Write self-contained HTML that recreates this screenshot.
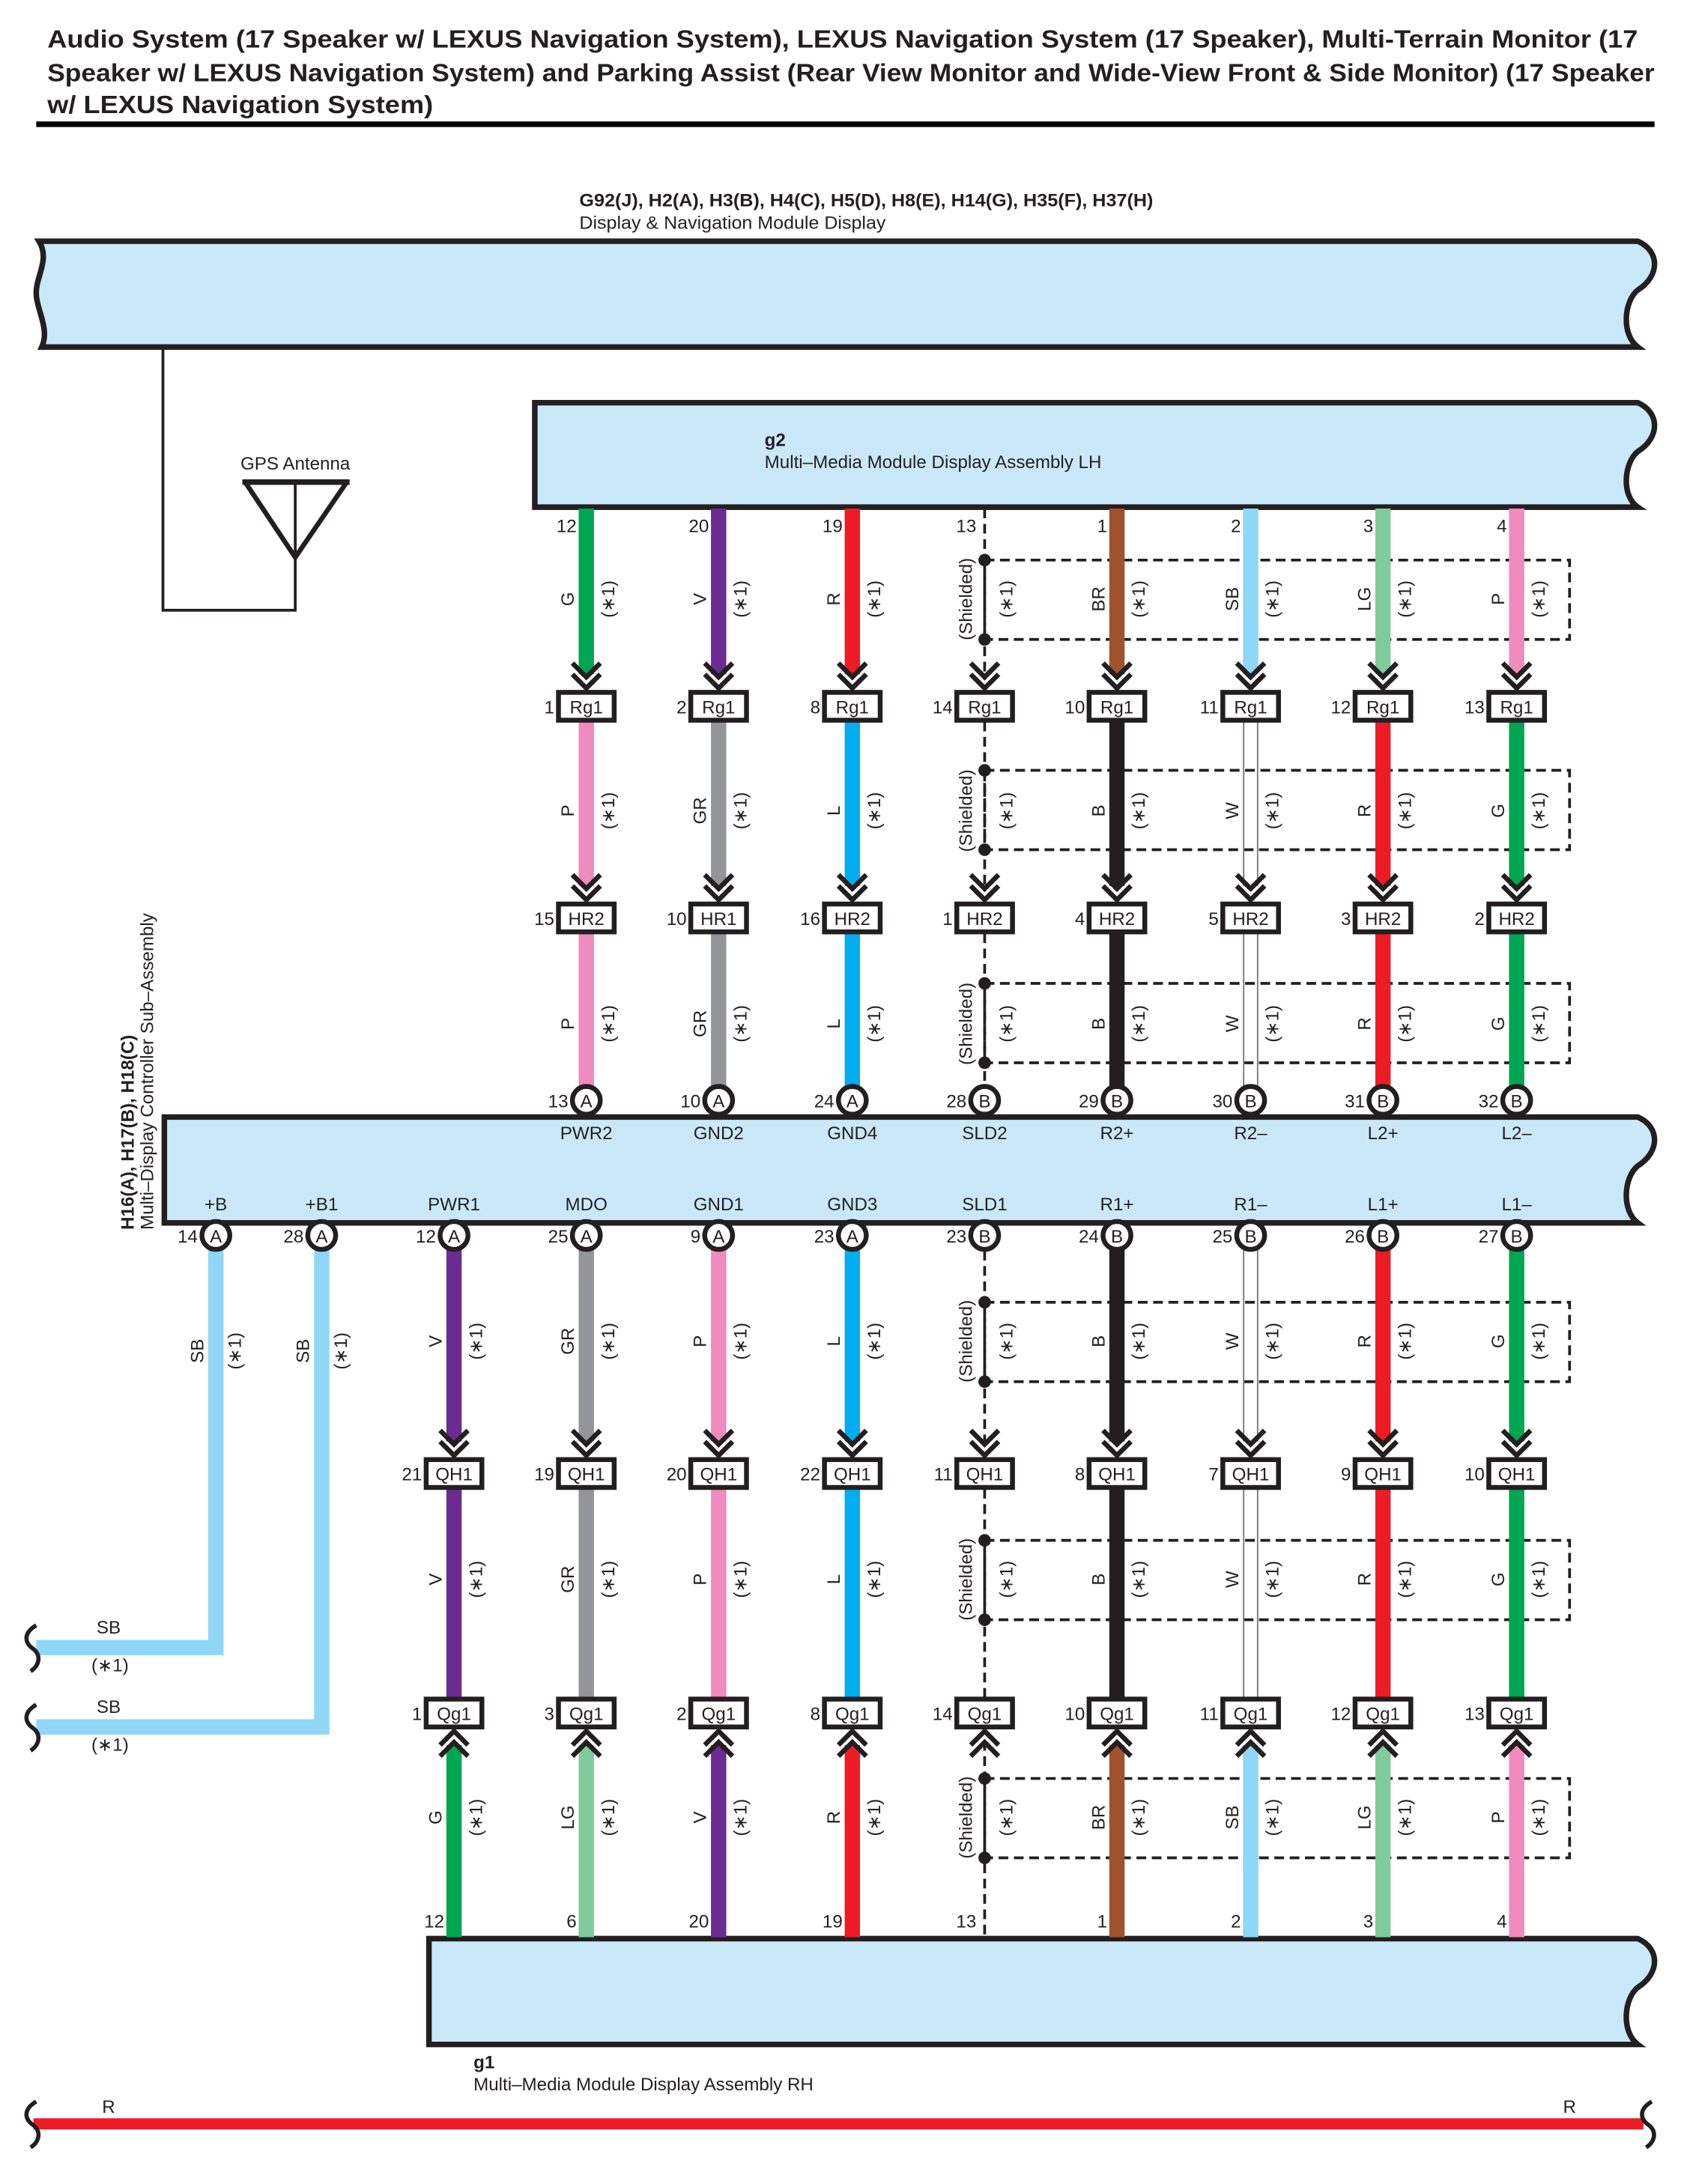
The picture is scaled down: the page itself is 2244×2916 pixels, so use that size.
<!DOCTYPE html>
<html><head><meta charset="utf-8"><style>
html,body{margin:0;padding:0;background:#fff}
svg{display:block}
text{font-family:"Liberation Sans",sans-serif;fill:#231f20}
.b{font-size:13px;text-anchor:middle}
.h{font-weight:bold;font-size:18px}
</style></head><body>
<svg width="2244" height="2916" viewBox="0 0 1207 1568" xmlns="http://www.w3.org/2000/svg">
<defs>
<g id="dn" fill="none" stroke="#231f20" stroke-width="3.5"><polyline points="-10,-31 0,-21 10,-31"/><polyline points="-10,-23 0,-13 10,-23"/></g>
<g id="up" fill="none" stroke="#231f20" stroke-width="3.5"><polyline points="-10,31 0,21 10,31"/><polyline points="-10,23 0,13 10,23"/></g>
<rect id="cb" x="-20" y="-10" width="40" height="20" fill="#fff" stroke="#231f20" stroke-width="3.5"/>
<circle id="cc" r="10" fill="#fff" stroke="#231f20" stroke-width="3.5"/>
</defs>

<!-- Title -->
<text class="h" x="34" y="34" textLength="1142" lengthAdjust="spacingAndGlyphs">Audio System (17 Speaker w/ LEXUS Navigation System), LEXUS Navigation System (17 Speaker), Multi-Terrain Monitor (17</text>
<text class="h" x="34" y="58" textLength="1154" lengthAdjust="spacingAndGlyphs">Speaker w/ LEXUS Navigation System) and Parking Assist (Rear View Monitor and Wide-View Front &amp; Side Monitor) (17 Speaker</text>
<text class="h" x="34" y="81" textLength="277" lengthAdjust="spacingAndGlyphs">w/ LEXUS Navigation System)</text>
<rect x="26" y="87" width="1162" height="4" fill="#000"/>

<!-- Top box -->
<text x="416" y="148" style="font-size:13px;font-weight:bold" textLength="412" lengthAdjust="spacingAndGlyphs">G92(J), H2(A), H3(B), H4(C), H5(D), H8(E), H14(G), H35(F), H37(H)</text>
<text x="416" y="164" style="font-size:13px" textLength="220" lengthAdjust="spacingAndGlyphs">Display &amp; Navigation Module Display</text>
<path d="M28,173 H1176 C1192,180 1192,198 1176,208 C1166,216 1164,240 1176,249 H30 C36,236 26,222 26,210 C26,198 36,186 28,173 Z" fill="#c9e9f9" stroke="#231f20" stroke-width="4"/>

<!-- GPS antenna -->
<polyline points="117,249 117,438 212,438 212,345" fill="none" stroke="#231f20" stroke-width="2"/>
<polyline points="176,346 212,400 249,346" fill="none" stroke="#231f20" stroke-width="3.5"/>
<line x1="174" y1="346" x2="251" y2="346" stroke="#231f20" stroke-width="4"/>
<text class="b" x="212" y="337">GPS Antenna</text>

<!-- g2 box -->
<path d="M384,289 H1176 C1192,296 1192,314 1176,324 C1166,332 1164,356 1176,364 H384 Z" fill="#c9e9f9" stroke="#231f20" stroke-width="4"/>
<text x="549" y="320" style="font-size:13px;font-weight:bold">g2</text>
<text x="549" y="336" style="font-size:13px">Multi–Media Module Display Assembly LH</text>

<!-- Controller box -->
<path d="M118,802 H1176 C1192,809 1192,827 1176,837 C1166,845 1164,869 1176,878 H118 Z" fill="#c9e9f9" stroke="#231f20" stroke-width="4"/>
<text transform="translate(96,883) rotate(-90)" style="font-size:13px;font-weight:bold">H16(A), H17(B), H18(C)</text>
<text transform="translate(110,883) rotate(-90)" style="font-size:13px">Multi–Display Controller Sub–Assembly</text>

<!-- g1 box -->
<path d="M308,1392 H1176 C1192,1399 1192,1417 1176,1427 C1166,1435 1164,1459 1176,1468 H308 Z" fill="#c9e9f9" stroke="#231f20" stroke-width="4"/>
<text x="340" y="1485" style="font-size:13px;font-weight:bold">g1</text>
<text x="340" y="1501" style="font-size:13px">Multi–Media Module Display Assembly RH</text>

<!-- Red bottom line -->
<line x1="24" y1="1525" x2="1180" y2="1525" stroke="#ed1c24" stroke-width="8"/>
<path d="M26,1509 C16,1515 18,1522 24,1526 C30,1531 28,1538 22,1542" fill="none" stroke="#231f20" stroke-width="3"/>
<path d="M1186,1509 C1176,1515 1178,1522 1184,1526 C1190,1531 1188,1538 1182,1542" fill="none" stroke="#231f20" stroke-width="3"/>
<text class="b" x="78" y="1517">R</text>
<text class="b" x="1127" y="1517">R</text>

<!-- Shield dashed boxes -->
<g fill="none" stroke="#231f20" stroke-width="2" stroke-dasharray="7,4">
<rect x="707" y="402" width="420" height="57"/>
<rect x="707" y="553" width="420" height="57"/>
<rect x="707" y="706" width="420" height="57"/>
<rect x="707" y="935" width="420" height="57"/>
<rect x="707" y="1106" width="420" height="57"/>
<rect x="707" y="1277" width="420" height="57"/>
</g>
<g fill="#231f20">
<circle cx="707" cy="402" r="4.5"/><circle cx="707" cy="459" r="4.5"/>
<circle cx="707" cy="553" r="4.5"/><circle cx="707" cy="610" r="4.5"/>
<circle cx="707" cy="706" r="4.5"/><circle cx="707" cy="763" r="4.5"/>
<circle cx="707" cy="935" r="4.5"/><circle cx="707" cy="992" r="4.5"/>
<circle cx="707" cy="1106" r="4.5"/><circle cx="707" cy="1163" r="4.5"/>
<circle cx="707" cy="1277" r="4.5"/><circle cx="707" cy="1334" r="4.5"/>
</g>

<!-- Shield wire (column 707) -->
<g stroke="#231f20" stroke-width="2" stroke-dasharray="7,4">
<line x1="707" y1="365" x2="707" y2="488"/>
<line x1="707" y1="518" x2="707" y2="640"/>
<line x1="707" y1="670" x2="707" y2="779"/>
<line x1="707" y1="898" x2="707" y2="1039"/>
<line x1="707" y1="1250" x2="707" y2="1391"/>
<line x1="707" y1="1069" x2="707" y2="1219"/>
</g>

<!-- Wires -->
<g stroke-width="11">
<line x1="421" y1="365" x2="421" y2="484" stroke="#00a651"/>
<line x1="516" y1="365" x2="516" y2="484" stroke="#6a2c91"/>
<line x1="612" y1="365" x2="612" y2="484" stroke="#ed1c24"/>
<line x1="802" y1="365" x2="802" y2="484" stroke="#a0522d"/>
<line x1="898" y1="365" x2="898" y2="484" stroke="#8fd6f7"/>
<line x1="993" y1="365" x2="993" y2="484" stroke="#7fcb9b"/>
<line x1="1089" y1="365" x2="1089" y2="484" stroke="#f08bbd"/>
<line x1="421" y1="517" x2="421" y2="636" stroke="#f08bbd"/>
<line x1="516" y1="517" x2="516" y2="636" stroke="#939598"/>
<line x1="612" y1="517" x2="612" y2="636" stroke="#00aeef"/>
<line x1="802" y1="517" x2="802" y2="636" stroke="#231f20"/>
<line x1="993" y1="517" x2="993" y2="636" stroke="#ed1c24"/>
<line x1="1089" y1="517" x2="1089" y2="636" stroke="#00a651"/>
<line x1="421" y1="669" x2="421" y2="780" stroke="#f08bbd"/>
<line x1="516" y1="669" x2="516" y2="780" stroke="#939598"/>
<line x1="612" y1="669" x2="612" y2="780" stroke="#00aeef"/>
<line x1="802" y1="669" x2="802" y2="780" stroke="#231f20"/>
<line x1="993" y1="669" x2="993" y2="780" stroke="#ed1c24"/>
<line x1="1089" y1="669" x2="1089" y2="780" stroke="#00a651"/>
<line x1="326" y1="897" x2="326" y2="1035" stroke="#6a2c91"/>
<line x1="421" y1="897" x2="421" y2="1035" stroke="#939598"/>
<line x1="516" y1="897" x2="516" y2="1035" stroke="#f08bbd"/>
<line x1="612" y1="897" x2="612" y2="1035" stroke="#00aeef"/>
<line x1="802" y1="897" x2="802" y2="1035" stroke="#231f20"/>
<line x1="993" y1="897" x2="993" y2="1035" stroke="#ed1c24"/>
<line x1="1089" y1="897" x2="1089" y2="1035" stroke="#00a651"/>
<line x1="326" y1="1068" x2="326" y2="1220" stroke="#6a2c91"/>
<line x1="421" y1="1068" x2="421" y2="1220" stroke="#939598"/>
<line x1="516" y1="1068" x2="516" y2="1220" stroke="#f08bbd"/>
<line x1="612" y1="1068" x2="612" y2="1220" stroke="#00aeef"/>
<line x1="802" y1="1068" x2="802" y2="1220" stroke="#231f20"/>
<line x1="993" y1="1068" x2="993" y2="1220" stroke="#ed1c24"/>
<line x1="1089" y1="1068" x2="1089" y2="1220" stroke="#00a651"/>
<line x1="326" y1="1253" x2="326" y2="1391" stroke="#00a651"/>
<line x1="421" y1="1253" x2="421" y2="1391" stroke="#7fcb9b"/>
<line x1="516" y1="1253" x2="516" y2="1391" stroke="#6a2c91"/>
<line x1="612" y1="1253" x2="612" y2="1391" stroke="#ed1c24"/>
<line x1="802" y1="1253" x2="802" y2="1391" stroke="#a0522d"/>
<line x1="898" y1="1253" x2="898" y2="1391" stroke="#8fd6f7"/>
<line x1="993" y1="1253" x2="993" y2="1391" stroke="#7fcb9b"/>
<line x1="1089" y1="1253" x2="1089" y2="1391" stroke="#f08bbd"/>
</g>
<!-- SB left wires -->
<path d="M155,897 V1183 H26" fill="none" stroke="#8fd6f7" stroke-width="11"/>
<path d="M231,897 V1240 H26" fill="none" stroke="#8fd6f7" stroke-width="11"/>
<path d="M26,1167 C16,1173 18,1180 24,1184 C30,1189 28,1196 22,1200" fill="none" stroke="#231f20" stroke-width="3"/>
<path d="M26,1224 C16,1230 18,1237 24,1241 C30,1246 28,1253 22,1257" fill="none" stroke="#231f20" stroke-width="3"/>
<text class="b" x="78" y="1173">SB</text><text class="b" x="79" y="1200">(∗1)</text>
<text class="b" x="78" y="1230">SB</text><text class="b" x="79" y="1257">(∗1)</text>

<!-- White wires (W) -->
<g stroke="#777" stroke-width="1">
<line x1="893" y1="517" x2="893" y2="636"/><line x1="903" y1="517" x2="903" y2="636"/>
<line x1="893" y1="669" x2="893" y2="780"/><line x1="903" y1="669" x2="903" y2="780"/>
<line x1="893" y1="897" x2="893" y2="1035"/><line x1="903" y1="897" x2="903" y2="1035"/>
<line x1="893" y1="1068" x2="893" y2="1220"/><line x1="903" y1="1068" x2="903" y2="1220"/>
</g>

<!-- Arrows -->
<g>
<use href="#dn" x="421" y="507"/><use href="#dn" x="516" y="507"/><use href="#dn" x="612" y="507"/><use href="#dn" x="707" y="507"/><use href="#dn" x="802" y="507"/><use href="#dn" x="898" y="507"/><use href="#dn" x="993" y="507"/><use href="#dn" x="1089" y="507"/>
<use href="#dn" x="421" y="659"/><use href="#dn" x="516" y="659"/><use href="#dn" x="612" y="659"/><use href="#dn" x="707" y="659"/><use href="#dn" x="802" y="659"/><use href="#dn" x="898" y="659"/><use href="#dn" x="993" y="659"/><use href="#dn" x="1089" y="659"/>
<use href="#dn" x="326" y="1058"/><use href="#dn" x="421" y="1058"/><use href="#dn" x="516" y="1058"/><use href="#dn" x="612" y="1058"/><use href="#dn" x="707" y="1058"/><use href="#dn" x="802" y="1058"/><use href="#dn" x="898" y="1058"/><use href="#dn" x="993" y="1058"/><use href="#dn" x="1089" y="1058"/>
<use href="#up" x="326" y="1230"/><use href="#up" x="421" y="1230"/><use href="#up" x="516" y="1230"/><use href="#up" x="612" y="1230"/><use href="#up" x="707" y="1230"/><use href="#up" x="802" y="1230"/><use href="#up" x="898" y="1230"/><use href="#up" x="993" y="1230"/><use href="#up" x="1089" y="1230"/>
</g>

<!-- Connector boxes -->
<g>
<use href="#cb" x="421" y="507"/><use href="#cb" x="516" y="507"/><use href="#cb" x="612" y="507"/><use href="#cb" x="707" y="507"/><use href="#cb" x="802" y="507"/><use href="#cb" x="898" y="507"/><use href="#cb" x="993" y="507"/><use href="#cb" x="1089" y="507"/>
<use href="#cb" x="421" y="659"/><use href="#cb" x="516" y="659"/><use href="#cb" x="612" y="659"/><use href="#cb" x="707" y="659"/><use href="#cb" x="802" y="659"/><use href="#cb" x="898" y="659"/><use href="#cb" x="993" y="659"/><use href="#cb" x="1089" y="659"/>
<use href="#cb" x="326" y="1058"/><use href="#cb" x="421" y="1058"/><use href="#cb" x="516" y="1058"/><use href="#cb" x="612" y="1058"/><use href="#cb" x="707" y="1058"/><use href="#cb" x="802" y="1058"/><use href="#cb" x="898" y="1058"/><use href="#cb" x="993" y="1058"/><use href="#cb" x="1089" y="1058"/>
<use href="#cb" x="326" y="1230"/><use href="#cb" x="421" y="1230"/><use href="#cb" x="516" y="1230"/><use href="#cb" x="612" y="1230"/><use href="#cb" x="707" y="1230"/><use href="#cb" x="802" y="1230"/><use href="#cb" x="898" y="1230"/><use href="#cb" x="993" y="1230"/><use href="#cb" x="1089" y="1230"/>
<use href="#cc" x="421" y="790"/><use href="#cc" x="516" y="790"/><use href="#cc" x="612" y="790"/><use href="#cc" x="707" y="790"/><use href="#cc" x="802" y="790"/><use href="#cc" x="898" y="790"/><use href="#cc" x="993" y="790"/><use href="#cc" x="1089" y="790"/>
<use href="#cc" x="155" y="887"/><use href="#cc" x="231" y="887"/><use href="#cc" x="326" y="887"/><use href="#cc" x="421" y="887"/><use href="#cc" x="516" y="887"/><use href="#cc" x="612" y="887"/><use href="#cc" x="707" y="887"/><use href="#cc" x="802" y="887"/><use href="#cc" x="898" y="887"/><use href="#cc" x="993" y="887"/><use href="#cc" x="1089" y="887"/>
</g>

<!-- Box labels -->
<g style="font-size:13px" text-anchor="middle">
<text x="421" y="512">Rg1</text><text x="516" y="512">Rg1</text><text x="612" y="512">Rg1</text><text x="707" y="512">Rg1</text><text x="802" y="512">Rg1</text><text x="898" y="512">Rg1</text><text x="993" y="512">Rg1</text><text x="1089" y="512">Rg1</text>
<text x="421" y="664">HR2</text><text x="516" y="664">HR1</text><text x="612" y="664">HR2</text><text x="707" y="664">HR2</text><text x="802" y="664">HR2</text><text x="898" y="664">HR2</text><text x="993" y="664">HR2</text><text x="1089" y="664">HR2</text>
<text x="326" y="1063">QH1</text><text x="421" y="1063">QH1</text><text x="516" y="1063">QH1</text><text x="612" y="1063">QH1</text><text x="707" y="1063">QH1</text><text x="802" y="1063">QH1</text><text x="898" y="1063">QH1</text><text x="993" y="1063">QH1</text><text x="1089" y="1063">QH1</text>
<text x="326" y="1235">Qg1</text><text x="421" y="1235">Qg1</text><text x="516" y="1235">Qg1</text><text x="612" y="1235">Qg1</text><text x="707" y="1235">Qg1</text><text x="802" y="1235">Qg1</text><text x="898" y="1235">Qg1</text><text x="993" y="1235">Qg1</text><text x="1089" y="1235">Qg1</text>
<text x="421" y="795">A</text><text x="516" y="795">A</text><text x="612" y="795">A</text><text x="707" y="795">B</text><text x="802" y="795">B</text><text x="898" y="795">B</text><text x="993" y="795">B</text><text x="1089" y="795">B</text>
<text x="155" y="892">A</text><text x="231" y="892">A</text><text x="326" y="892">A</text><text x="421" y="892">A</text><text x="516" y="892">A</text><text x="612" y="892">A</text><text x="707" y="892">B</text><text x="802" y="892">B</text><text x="898" y="892">B</text><text x="993" y="892">B</text><text x="1089" y="892">B</text>
<text x="421" y="818">PWR2</text><text x="516" y="818">GND2</text><text x="612" y="818">GND4</text><text x="707" y="818">SLD2</text><text x="802" y="818">R2+</text><text x="898" y="818">R2–</text><text x="993" y="818">L2+</text><text x="1089" y="818">L2–</text>
<text x="155" y="869">+B</text><text x="231" y="869">+B1</text><text x="326" y="869">PWR1</text><text x="421" y="869">MDO</text><text x="516" y="869">GND1</text><text x="612" y="869">GND3</text><text x="707" y="869">SLD1</text><text x="802" y="869">R1+</text><text x="898" y="869">R1–</text><text x="993" y="869">L1+</text><text x="1089" y="869">L1–</text>
</g>

<!-- Pin numbers -->
<g style="font-size:13px" text-anchor="end">
<text x="414" y="382">12</text><text x="509" y="382">20</text><text x="605" y="382">19</text><text x="701" y="382">13</text><text x="795" y="382">1</text><text x="891" y="382">2</text><text x="986" y="382">3</text><text x="1082" y="382">4</text>
<text x="398" y="512">1</text><text x="493" y="512">2</text><text x="589" y="512">8</text><text x="684" y="512">14</text><text x="779" y="512">10</text><text x="875" y="512">11</text><text x="970" y="512">12</text><text x="1066" y="512">13</text>
<text x="398" y="664">15</text><text x="493" y="664">10</text><text x="589" y="664">16</text><text x="684" y="664">1</text><text x="779" y="664">4</text><text x="875" y="664">5</text><text x="970" y="664">3</text><text x="1066" y="664">2</text>
<text x="408" y="795">13</text><text x="503" y="795">10</text><text x="599" y="795">24</text><text x="694" y="795">28</text><text x="789" y="795">29</text><text x="885" y="795">30</text><text x="980" y="795">31</text><text x="1076" y="795">32</text>
<text x="142" y="892">14</text><text x="218" y="892">28</text><text x="313" y="892">12</text><text x="408" y="892">25</text><text x="503" y="892">9</text><text x="599" y="892">23</text><text x="694" y="892">23</text><text x="789" y="892">24</text><text x="885" y="892">25</text><text x="980" y="892">26</text><text x="1076" y="892">27</text>
<text x="303" y="1063">21</text><text x="398" y="1063">19</text><text x="493" y="1063">20</text><text x="589" y="1063">22</text><text x="684" y="1063">11</text><text x="779" y="1063">8</text><text x="875" y="1063">7</text><text x="970" y="1063">9</text><text x="1066" y="1063">10</text>
<text x="303" y="1235">1</text><text x="398" y="1235">3</text><text x="493" y="1235">2</text><text x="589" y="1235">8</text><text x="684" y="1235">14</text><text x="779" y="1235">10</text><text x="875" y="1235">11</text><text x="970" y="1235">12</text><text x="1066" y="1235">13</text>
<text x="319" y="1384">12</text><text x="414" y="1384">6</text><text x="509" y="1384">20</text><text x="605" y="1384">19</text><text x="701" y="1384">13</text><text x="795" y="1384">1</text><text x="891" y="1384">2</text><text x="986" y="1384">3</text><text x="1082" y="1384">4</text>
</g>

<!-- Rotated wire labels -->
<g style="font-size:13px" text-anchor="middle">
<text transform="translate(412,430) rotate(-90)">G</text><text transform="translate(507,430) rotate(-90)">V</text><text transform="translate(603,430) rotate(-90)">R</text><text transform="translate(698,430) rotate(-90)">(Shielded)</text><text transform="translate(793,430) rotate(-90)">BR</text><text transform="translate(889,430) rotate(-90)">SB</text><text transform="translate(984,430) rotate(-90)">LG</text><text transform="translate(1080,430) rotate(-90)">P</text>
<text transform="translate(412,582) rotate(-90)">P</text><text transform="translate(507,582) rotate(-90)">GR</text><text transform="translate(603,582) rotate(-90)">L</text><text transform="translate(698,582) rotate(-90)">(Shielded)</text><text transform="translate(793,582) rotate(-90)">B</text><text transform="translate(889,582) rotate(-90)">W</text><text transform="translate(984,582) rotate(-90)">R</text><text transform="translate(1080,582) rotate(-90)">G</text>
<text transform="translate(412,735) rotate(-90)">P</text><text transform="translate(507,735) rotate(-90)">GR</text><text transform="translate(603,735) rotate(-90)">L</text><text transform="translate(698,735) rotate(-90)">(Shielded)</text><text transform="translate(793,735) rotate(-90)">B</text><text transform="translate(889,735) rotate(-90)">W</text><text transform="translate(984,735) rotate(-90)">R</text><text transform="translate(1080,735) rotate(-90)">G</text>
<text transform="translate(146,970) rotate(-90)">SB</text><text transform="translate(222,970) rotate(-90)">SB</text>
<text transform="translate(173,970) rotate(-90)">(∗1)</text><text transform="translate(249,970) rotate(-90)">(∗1)</text>
<text transform="translate(317,963) rotate(-90)">V</text><text transform="translate(412,963) rotate(-90)">GR</text><text transform="translate(507,963) rotate(-90)">P</text><text transform="translate(603,963) rotate(-90)">L</text><text transform="translate(698,963) rotate(-90)">(Shielded)</text><text transform="translate(793,963) rotate(-90)">B</text><text transform="translate(889,963) rotate(-90)">W</text><text transform="translate(984,963) rotate(-90)">R</text><text transform="translate(1080,963) rotate(-90)">G</text>
<text transform="translate(317,1134) rotate(-90)">V</text><text transform="translate(412,1134) rotate(-90)">GR</text><text transform="translate(507,1134) rotate(-90)">P</text><text transform="translate(603,1134) rotate(-90)">L</text><text transform="translate(698,1134) rotate(-90)">(Shielded)</text><text transform="translate(793,1134) rotate(-90)">B</text><text transform="translate(889,1134) rotate(-90)">W</text><text transform="translate(984,1134) rotate(-90)">R</text><text transform="translate(1080,1134) rotate(-90)">G</text>
<text transform="translate(317,1305) rotate(-90)">G</text><text transform="translate(412,1305) rotate(-90)">LG</text><text transform="translate(507,1305) rotate(-90)">V</text><text transform="translate(603,1305) rotate(-90)">R</text><text transform="translate(698,1305) rotate(-90)">(Shielded)</text><text transform="translate(793,1305) rotate(-90)">BR</text><text transform="translate(889,1305) rotate(-90)">SB</text><text transform="translate(984,1305) rotate(-90)">LG</text><text transform="translate(1080,1305) rotate(-90)">P</text>
<text transform="translate(441,430) rotate(-90)">(∗1)</text><text transform="translate(536,430) rotate(-90)">(∗1)</text><text transform="translate(632,430) rotate(-90)">(∗1)</text><text transform="translate(727,430) rotate(-90)">(∗1)</text><text transform="translate(822,430) rotate(-90)">(∗1)</text><text transform="translate(918,430) rotate(-90)">(∗1)</text><text transform="translate(1013,430) rotate(-90)">(∗1)</text><text transform="translate(1109,430) rotate(-90)">(∗1)</text>
<text transform="translate(441,582) rotate(-90)">(∗1)</text><text transform="translate(536,582) rotate(-90)">(∗1)</text><text transform="translate(632,582) rotate(-90)">(∗1)</text><text transform="translate(727,582) rotate(-90)">(∗1)</text><text transform="translate(822,582) rotate(-90)">(∗1)</text><text transform="translate(918,582) rotate(-90)">(∗1)</text><text transform="translate(1013,582) rotate(-90)">(∗1)</text><text transform="translate(1109,582) rotate(-90)">(∗1)</text>
<text transform="translate(441,735) rotate(-90)">(∗1)</text><text transform="translate(536,735) rotate(-90)">(∗1)</text><text transform="translate(632,735) rotate(-90)">(∗1)</text><text transform="translate(727,735) rotate(-90)">(∗1)</text><text transform="translate(822,735) rotate(-90)">(∗1)</text><text transform="translate(918,735) rotate(-90)">(∗1)</text><text transform="translate(1013,735) rotate(-90)">(∗1)</text><text transform="translate(1109,735) rotate(-90)">(∗1)</text>
<text transform="translate(346,963) rotate(-90)">(∗1)</text><text transform="translate(441,963) rotate(-90)">(∗1)</text><text transform="translate(536,963) rotate(-90)">(∗1)</text><text transform="translate(632,963) rotate(-90)">(∗1)</text><text transform="translate(727,963) rotate(-90)">(∗1)</text><text transform="translate(822,963) rotate(-90)">(∗1)</text><text transform="translate(918,963) rotate(-90)">(∗1)</text><text transform="translate(1013,963) rotate(-90)">(∗1)</text><text transform="translate(1109,963) rotate(-90)">(∗1)</text>
<text transform="translate(346,1134) rotate(-90)">(∗1)</text><text transform="translate(441,1134) rotate(-90)">(∗1)</text><text transform="translate(536,1134) rotate(-90)">(∗1)</text><text transform="translate(632,1134) rotate(-90)">(∗1)</text><text transform="translate(727,1134) rotate(-90)">(∗1)</text><text transform="translate(822,1134) rotate(-90)">(∗1)</text><text transform="translate(918,1134) rotate(-90)">(∗1)</text><text transform="translate(1013,1134) rotate(-90)">(∗1)</text><text transform="translate(1109,1134) rotate(-90)">(∗1)</text>
<text transform="translate(346,1305) rotate(-90)">(∗1)</text><text transform="translate(441,1305) rotate(-90)">(∗1)</text><text transform="translate(536,1305) rotate(-90)">(∗1)</text><text transform="translate(632,1305) rotate(-90)">(∗1)</text><text transform="translate(727,1305) rotate(-90)">(∗1)</text><text transform="translate(822,1305) rotate(-90)">(∗1)</text><text transform="translate(918,1305) rotate(-90)">(∗1)</text><text transform="translate(1013,1305) rotate(-90)">(∗1)</text><text transform="translate(1109,1305) rotate(-90)">(∗1)</text>
</g>
</svg>
</body></html>
